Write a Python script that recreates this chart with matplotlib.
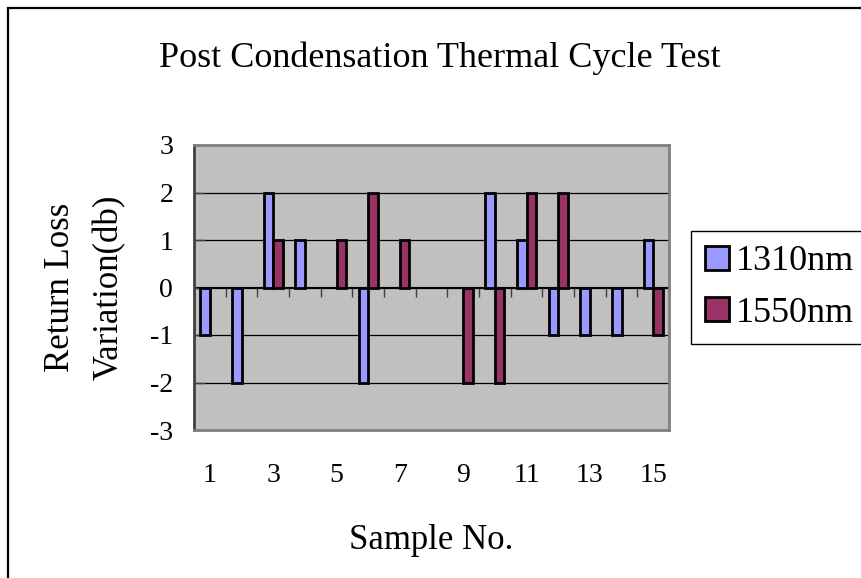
import numpy as np
import matplotlib
matplotlib.use("Agg")
import matplotlib.pyplot as plt
from matplotlib.patches import Rectangle

samples = np.arange(1, 16)
nm1310 = [-1, -2, 2, 1, 0, -2, 0, 0, 0, 2, 1, -1, -1, -1, 1]
nm1550 = [0, 0, 1, 0, 1, 2, 1, 0, -2, -2, 2, 2, 0, 0, -1]
xticks_shown = [1, 3, 5, 7, 9, 11, 13, 15]
yticks = [-3, -2, -1, 0, 1, 2, 3]

plt.rcParams['font.family'] = ['Liberation Serif', 'DejaVu Serif']

W, H = 861, 578
fig = plt.figure(figsize=(W / 100, H / 100), dpi=100)
ax = fig.add_axes([194 / W, 1 - 430 / H, (669 - 194) / W, (430 - 145) / H])
ax.set_facecolor('#C0C0C0')

# zero values draw nothing (as in Excel)
v1 = np.where(np.array(nm1310) == 0, np.nan, nm1310)
v2 = np.where(np.array(nm1550) == 0, np.nan, nm1550)

bw = 0.3
ax.bar(samples - bw / 2, v1, bw, color='#9999FF', edgecolor='black', linewidth=2, label='1310nm', zorder=3)
ax.bar(samples + bw / 2, v2, bw, color='#993366', edgecolor='black', linewidth=2, label='1550nm', zorder=3)

ax.set_xlim(0.5, 15.5)
ax.set_ylim(-3, 3)
ax.set_yticks(yticks)
ax.set_yticklabels([str(v) for v in yticks])
ax.grid(axis='y', color='black', linewidth=0.9, zorder=1)
ax.tick_params(axis='y', direction='in', length=8, width=1, labelsize=20, pad=15, color='#404040')
ax.set_xticks(xticks_shown)
ax.set_xticklabels([str(v) for v in xticks_shown])
ax.tick_params(axis='x', length=0, labelsize=20, pad=24)

for s in ax.spines.values():
    s.set_color('#808080')
    s.set_linewidth(2)
ax.spines['left'].set_color('#404040')

# category axis crossing at zero
sec = ax.secondary_xaxis(0.5)
sec.set_xticks(np.arange(0.5, 16, 1))
sec.set_xticklabels([])
sec.tick_params(direction='in', length=7, width=1, color='#404040')
sec.spines['bottom'].set_color('black')
sec.spines['bottom'].set_linewidth(1)

ax.set_xlabel('Sample No.', fontsize=25, labelpad=26)
ax.set_ylabel('Return Loss\nVariation(db)', fontsize=25, labelpad=17, linespacing=1.65)

fig.text(0.511, 1 - 58 / H, 'Post Condensation Thermal Cycle Test', fontsize=26,
         ha='center', va='center')

leg = fig.legend(loc='upper left', bbox_to_anchor=(691 / W, 1 - 231 / H), fontsize=26,
                 frameon=True, fancybox=False, framealpha=1, edgecolor='black',
                 handlelength=0.65, handleheight=0.65, handletextpad=0.2,
                 borderpad=0.4, labelspacing=0.5, borderaxespad=0)
leg.get_frame().set_linewidth(1)

fig.patches.append(Rectangle((8 / W, -0.1), 1.2, 1.1 - 8 / H, transform=fig.transFigure,
                             fill=False, edgecolor='black', linewidth=1.6))

fig.savefig('out.png', dpi=100)
